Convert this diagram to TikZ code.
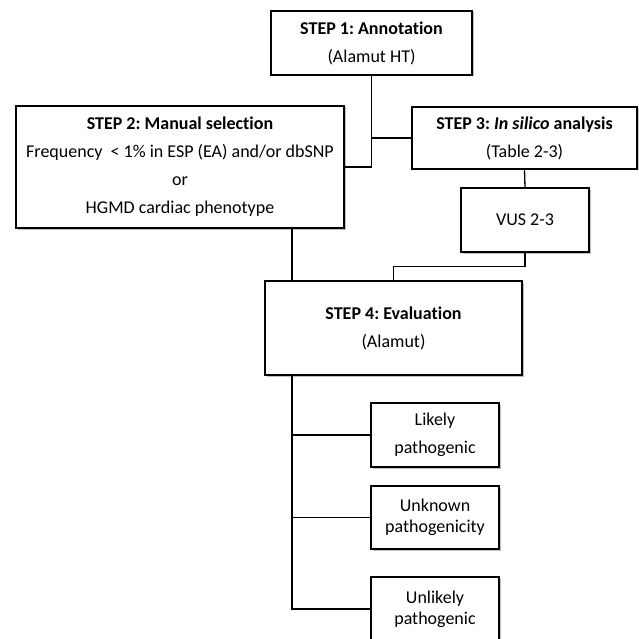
\documentclass[tikz,border=0pt]{standalone}
\usepackage{fontspec}
\setmainfont{Carlito}[Ligatures=NoCommon]
\usetikzlibrary{shadows}
\frenchspacing
\begin{document}
\begin{tikzpicture}[x=1pt,y=-1pt,
  box/.style={draw=black, line width=1.3pt, fill=white, rectangle, inner sep=0pt, align=center,
    font=\fontsize{18}{28}\selectfont,
    drop shadow={shadow xshift=1.5pt, shadow yshift=-1.5pt, opacity=0.25, fill=black}},
  tight/.style={font=\fontsize{18}{21}\selectfont},
  conn/.style={draw=black, line width=1.3pt}]
\useasboundingbox (0,0) rectangle (639,639);
\fill[white] (0,0) rectangle (639,639);
\node[box, minimum width=201pt, minimum height=64pt] (b1) at (371.5,43) {\textbf{STEP 1: Annotation}\\(Alamut HT)};
\node[box, minimum width=328pt, minimum height=122pt] (b2) at (180,167) {\textbf{STEP 2: Manual selection}\\Frequency\ \ < 1\% in ESP (EA) and/or dbSNP\\or\\HGMD cardiac phenotype};
\node[box, minimum width=225pt, minimum height=62pt] (b3) at (524.5,138) {\textbf{STEP 3: \textit{In silico} analysis}\\(Table 2-3)};
\node[box, minimum width=128pt, minimum height=64pt] (vus) at (525,220) {VUS 2-3};
\node[box, minimum width=257pt, minimum height=94pt] (b4) at (393.5,328) {\textbf{STEP 4: Evaluation}\\(Alamut)};
\node[box, minimum width=128pt, minimum height=64pt] (l1) at (435,435) {Likely\\pathogenic};
\node[box, tight, minimum width=128pt, minimum height=63pt] (l2) at (435,517.5) {Unknown\\pathogenicity};
\node[box, tight, minimum width=128pt, minimum height=64pt] (l3) at (435,609) {Unlikely\\pathogenic};
\coordinate (bus) at (292,0);
\draw[conn] (b1.south) |- (b2.east);
\draw[conn] (b1.south |- b3.west) -- (b3.west);
\draw[conn] (bus |- b2.south) -- (bus |- b4.north);
\draw[conn] (b3.south) -- (vus.north);
\draw[conn] (vus.south) -- ++(0,14) -| (b4.north);
\draw[conn] (bus |- b4.south) -- (bus |- l3.west) -- (l3.west);
\draw[conn] (bus |- l1.west) -- (l1.west);
\draw[conn] (bus |- l2.west) -- (l2.west);
\end{tikzpicture}
\end{document}
